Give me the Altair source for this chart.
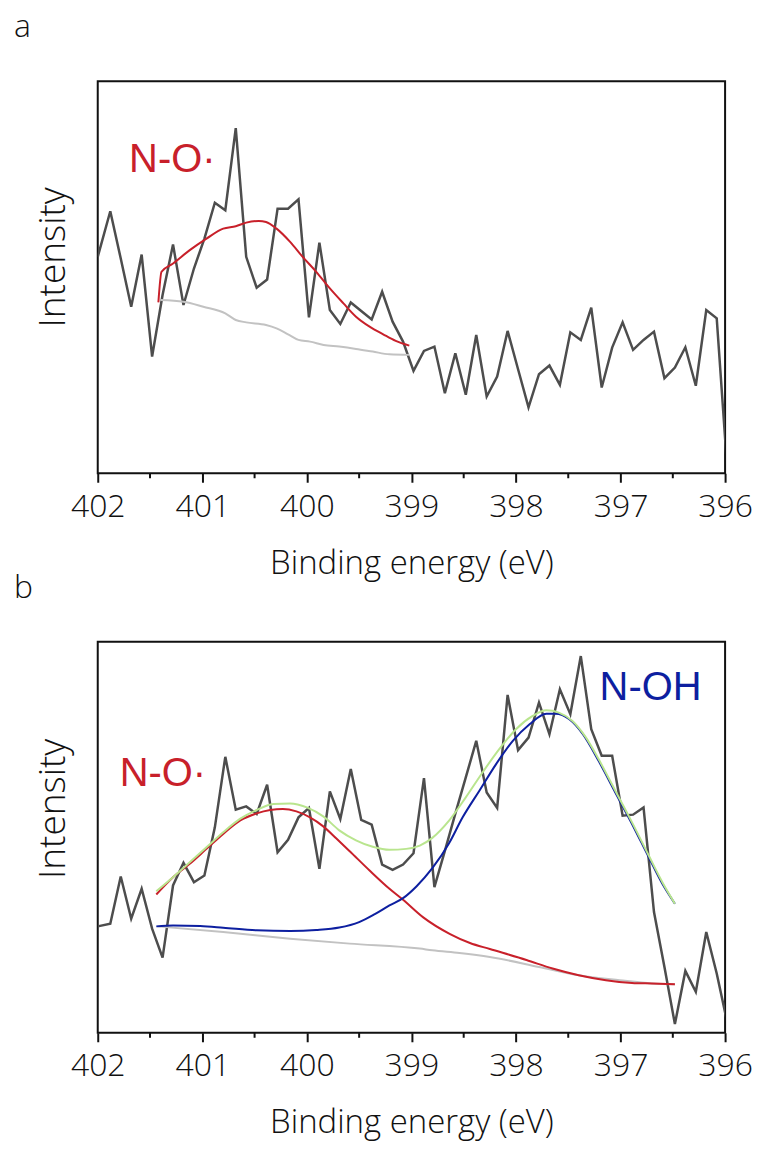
import altair as alt
import pandas as pd

# ---------------- data ----------------
energy = [402.0, 401.88, 401.78, 401.68, 401.58, 401.48, 401.38, 401.28, 401.18, 401.08, 400.98,
          400.88, 400.78, 400.68, 400.58, 400.48, 400.38, 400.28, 400.18, 400.08, 399.98,
          399.88, 399.78, 399.68, 399.58, 399.48, 399.38, 399.28, 399.18, 399.08, 398.98,
          398.88, 398.78, 398.68, 398.58, 398.48, 398.38, 398.28, 398.18, 398.08, 397.98,
          397.88, 397.78, 397.68, 397.58, 397.48, 397.38, 397.28, 397.18, 397.08, 396.98,
          396.88, 396.78, 396.68, 396.58, 396.48, 396.38, 396.28, 396.18, 396.08, 395.98]

raw_a = [217, 262.7, 215.3, 167, 219.3, 117, 178.7, 229.3, 168.7, 205.3, 235.3,
         271.3, 263.7, 346, 217, 186, 194.3, 265.3, 265.3, 274.7, 156.3,
         231.3, 163.7, 149.7, 171.3, 162.7, 154.3, 182, 152, 132, 102.7,
         122.7, 127, 80.3, 120.3, 78.7, 138.7, 77, 97, 142.7, 104.3,
         66, 99.3, 108, 88.7, 141.3, 133.7, 166, 86, 126, 151.3,
         123.7, 133.7, 142, 95.3, 106, 126.3, 87.7, 163.7, 155.3, 5]

raw_b = [106.7, 109.4, 156.7, 114.4, 144.4, 104.4, 75.4, 147.7, 170.4, 151, 157.7,
         206, 276.7, 223.7, 227, 219.4, 248.7, 181, 193.4, 216, 225.4,
         164.4, 242, 214.4, 264.4, 213.4, 208.7, 168.7, 163.4, 168.7, 180,
         255.4, 146, 182.4, 219.7, 256, 292.7, 241, 225.4, 338.7, 283.4,
         296, 331, 299.4, 344.4, 319.4, 377.7, 304.4, 277.7, 277.7, 217.7,
         218.7, 226, 121, 66, 8.7, 62, 41, 101, 59.4, 10.7]

# panel a fit
a_bg_E = [401.40, 401.18, 400.99, 400.78, 400.68, 400.58, 400.39, 400.29, 400.18, 400.08,
          399.97, 399.84, 399.69, 399.53, 399.37, 399.21, 399.02]
a_bg_I = [173.7, 172, 167, 160.3, 153.7, 151.3, 148.7, 145.3, 139.3, 133.7,
          132, 128.7, 127, 124.7, 122, 119.3, 118.7]
a_no_E = [401.42, 401.39, 401.28, 401.12, 400.96, 400.80, 400.68, 400.58, 400.46, 400.39,
          400.29, 400.16, 400.04, 399.91, 399.78, 399.65, 399.53, 399.40, 399.27, 399.15, 399.02]
a_no_I = [171.3, 202, 210.3, 223.7, 235.3, 245.3, 247.7, 251.3, 253, 252,
          245.3, 232, 217, 202, 185.3, 170.3, 157, 147, 139.3, 132.7, 128]

# panel b fit
b_bg_E = [401.43, 400.80, 400.16, 399.59, 398.92, 398.80, 398.54, 398.25, 397.78, 397.40,
          397.01, 396.70, 396.48]
b_bg_I = [106.7, 101, 94.4, 89.4, 84.4, 82.7, 80, 76, 66, 57.7, 52.7, 49.4, 48.7]

b_no_E = [401.44, 401.28, 401.12, 400.96, 400.80, 400.64, 400.48, 400.35, 400.23, 400.10,
          399.97, 399.84, 399.72, 399.59, 399.40, 399.21, 399.08, 398.89, 398.63, 398.44,
          398.25, 397.90, 397.65, 397.40, 397.14, 396.89, 396.70, 396.48]
b_no_I = [138.7, 156, 169.4, 184.4, 199.4, 212.7, 220, 223.4, 224.4, 222,
          216, 206.7, 195, 182, 162.7, 144.4, 133.4, 116, 99, 90,
          84, 73, 64.4, 57.7, 52.7, 50, 49.4, 48.7]

b_oh_E = [401.44, 401.28, 401.02, 400.80, 400.48, 400.16, 399.91, 399.69, 399.50, 399.35,
          399.21, 399.08, 398.95, 398.80, 398.64, 398.51, 398.35, 398.19, 398.03, 397.87,
          397.71, 397.62, 397.49, 397.36, 397.21, 397.05, 396.89, 396.73, 396.60, 396.48]
b_oh_I = [106.7, 107.5, 107, 105.4, 102.7, 102, 103, 105.5, 111, 119,
          127.7, 135, 147, 165, 190, 216, 242.7, 269.4, 292.7, 309.4,
          320, 320, 314.4, 299.4, 272.7, 241, 209.4, 176, 149.4, 129.4]

b_sum_E = [401.44, 401.28, 401.12, 400.96, 400.80, 400.64, 400.48, 400.32, 400.16, 400.00,
           399.84, 399.69, 399.53, 399.37, 399.21, 399.05, 398.92, 398.80, 398.64, 398.48,
           398.32, 398.16, 398.00, 397.84, 397.71, 397.59, 397.46, 397.33, 397.21, 397.05,
           396.89, 396.73, 396.60, 396.48]
b_sum_I = [142, 156, 171, 186, 201, 214.4, 223.4, 229.4, 230, 226,
           216.7, 203, 193, 186.5, 183.4, 184.4, 187.7, 195.4, 212.7, 236,
           261, 284.4, 304.4, 317.7, 323.4, 321, 312.7, 296, 274.4, 242.7,
           211, 177.7, 151, 129.4]

tick_values = [402, 401, 400, 399, 398, 397, 396]
minor_values = [401.5, 400.5, 399.5, 398.5, 397.5, 396.5]

label_a = {"E": [401.70], "I": [302], "t": ["N-O·"]}
label_b_no = {"E": [401.79], "I": [247.7], "t": ["N-O·"]}
label_b_oh = {"E": [397.20], "I": [333.4], "t": ["N-OH"]}

# ---------------- styling ----------------
W = 629
INK = "#111111"
RAW = "#4d4d4d"
RED = "#c8202a"
BLUE = "#0d1fa0"
GREEN = "#b9e58e"
GRAY = "#c2c2c2"
FONT = "Open Sans"


def df(e, i):
    return pd.DataFrame({"E": e, "I": i})


def panel(letter, H, raw, fits, labels, title_y):
    xenc = alt.X(
        "E:Q",
        scale=alt.Scale(domain=[396, 402], reverse=True, zero=False, nice=False),
        axis=alt.Axis(
            values=tick_values, format="d", grid=False, domain=False,
            tickSize=9, tickWidth=2, tickColor=INK,
            labelFont=FONT, labelFontSize=32, labelFontWeight=300, labelColor=INK,
            labelPadding=9, labelFlush=False,
            title="Binding energy (eV)", titleFont=FONT, titleFontSize=33,
            titleFontWeight=300, titleColor=INK, titleY=100, titleBaseline="alphabetic",
        ),
    )
    yenc = alt.Y(
        "I:Q",
        scale=alt.Scale(domain=[0, H], zero=False, nice=False),
        axis=alt.Axis(
            labels=False, ticks=False, domain=False, grid=False,
            title="Intensity", titleFont=FONT, titleFontSize=37, titleFontWeight=300,
            titleColor=INK, titleAngle=270, titleX=-33, titleY=title_y,
            titleAlign="center", titleBaseline="alphabetic",
        ),
    )
    layers = [
        alt.Chart(df(energy, raw)).mark_line(color=RAW, strokeWidth=2.5, clip=True)
        .encode(x=xenc, y=yenc)
    ]
    for (e, i, col, sw) in fits:
        layers.append(
            alt.Chart(df(e, i)).mark_line(color=col, strokeWidth=sw, clip=True,
                                          interpolate="monotone")
            .encode(x=xenc, y=yenc)
        )
    for (lab, col) in labels:
        layers.append(
            alt.Chart(pd.DataFrame(lab)).mark_text(
                font="Liberation Sans", fontSize=40, align="left",
                baseline="alphabetic", color=col,
            ).encode(x=xenc, y=yenc, text="t:N")
        )
    # minor ticks at half-eV positions
    layers.append(
        alt.Chart(pd.DataFrame({"E": minor_values})).mark_rule(color=INK, strokeWidth=2)
        .encode(x=xenc, y=alt.value(H), y2=alt.value(H + 5))
    )
    # panel letter
    layers.append(
        alt.Chart(pd.DataFrame({"t": [letter]})).mark_text(
            font=FONT, fontSize=32, fontWeight=300, align="left",
            baseline="alphabetic", color=INK,
        ).encode(text="t:N", x=alt.value(-84), y=alt.value(-44))
    )
    return alt.layer(*layers).properties(width=W, height=H)


panel_a = panel(
    "a", 393, raw_a,
    [(a_bg_E, a_bg_I, GRAY, 2), (a_no_E, a_no_I, RED, 2)],
    [(label_a, RED)],
    176,
)
panel_b = panel(
    "b", 392, raw_b,
    [(b_bg_E, b_bg_I, GRAY, 2), (b_no_E, b_no_I, RED, 2),
     (b_oh_E, b_oh_I, BLUE, 2), (b_sum_E, b_sum_I, GREEN, 2)],
    [(label_b_no, RED), (label_b_oh, BLUE)],
    167,
)

chart = (
    alt.vconcat(panel_a, panel_b, spacing=169, bounds="flush")
    .properties(padding={"left": 13, "top": 9, "right": 5, "bottom": 5},
                background="white")
    .configure_view(stroke=INK, strokeWidth=2)
)

chart.save("out.html", embed_options={"renderer": "svg", "actions": False})
